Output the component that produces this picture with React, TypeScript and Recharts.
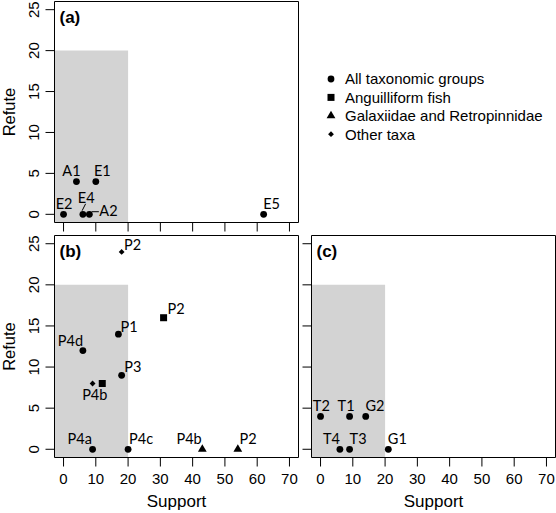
import React from 'react';
import { ScatterChart, Scatter, XAxis, YAxis, ReferenceArea, Label } from 'recharts';

// ---------- axes ----------
const X_TICKS = [0, 10, 20, 30, 40, 50, 60, 70];
const Y_TICKS = [0, 5, 10, 15, 20, 25];
const X_DOMAIN: [number, number] = [-2.8, 72.8];
const Y_DOMAIN: [number, number] = [-1, 26];
const SHADE_SUPPORT_MAX = 20;
const SHADE_REFUTE_MAX = 20;

// ---------- panel (a) ----------
const aAllNames = ['A1', 'E1', 'E2', 'E4', 'A2', 'E5'];
const aAllSupport = [4, 10, 0, 6, 8, 62];
const aAllRefute = [4, 4, 0, 0, 0, 0];

// ---------- panel (b) ----------
const bAllNames = ['P1', 'P4d', 'P3', 'P4a', 'P4c'];
const bAllSupport = [17, 6, 18, 9, 20];
const bAllRefute = [14, 12, 9, 0, 0];
const bAngNames = ['P2', 'P4b'];
const bAngSupport = [31, 12];
const bAngRefute = [16, 8];
const bGalNames = ['P4b', 'P2'];
const bGalSupport = [43, 54];
const bGalRefute = [0, 0];
const bOthNames = ['P2', 'P4b'];
const bOthSupport = [18, 9];
const bOthRefute = [24, 8];

// ---------- panel (c) ----------
const cAllNames = ['T2', 'T1', 'G2', 'T4', 'T3', 'G1'];
const cAllSupport = [0, 9, 14, 6, 9, 21];
const cAllRefute = [4, 4, 4, 0, 0, 0];

// ---------- legend ----------
const legendNames = ['All taxonomic groups', 'Anguilliform fish', 'Galaxiidae and Retropinnidae', 'Other taxa'];
const legendKinds = ['circle', 'square', 'triangle', 'diamond'];

// ---------- label placement (styling, relative to marker) ----------
type LabelPos = { dx: number; dy: number; anchor?: 'start' | 'middle' | 'end'; leader?: [number, number, number, number]; hide?: boolean };
const labelPos: Record<string, LabelPos> = {
  'a:all:A1': { dx: -5, dy: -10.5 },
  'a:all:E1': { dx: 6.6, dy: -10.5 },
  'a:all:E2': { dx: 0.5, dy: -10 },
  'a:all:E4': { dx: 3.3, dy: -16.7, leader: [2.7, -10.5, -0.8, -3.6] },
  'a:all:A2': { dx: 10, dy: -3.3, anchor: 'start', leader: [2.4, -2.6, 9.5, -2.6] },
  'a:all:E5': { dx: 8, dy: -10 },
  'b:oth:P2': { dx: 11, dy: -7 },
  'b:ang:P2': { dx: 12.4, dy: -8.7 },
  'b:all:P1': { dx: 10.7, dy: -7.3 },
  'b:all:P4d': { dx: -12.5, dy: -9.7 },
  'b:all:P3': { dx: 11.3, dy: -8.6 },
  'b:oth:P4b': { dx: 2.2, dy: 11 },
  'b:ang:P4b': { dx: 0, dy: 0, hide: true },
  'b:all:P4a': { dx: -12.8, dy: -10 },
  'b:all:P4c': { dx: 13, dy: -10 },
  'b:gal:P4b': { dx: -13.2, dy: -10 },
  'b:gal:P2': { dx: 10.2, dy: -10 },
  'c:all:T2': { dx: 0.8, dy: -10 },
  'c:all:T1': { dx: -3.5, dy: -10 },
  'c:all:G2': { dx: 9.3, dy: -10 },
  'c:all:T4': { dx: -8.5, dy: -10 },
  'c:all:T3': { dx: 8.5, dy: -10 },
  'c:all:G1': { dx: 9, dy: -10 },
};

type Row = { name: string; support: number; refute: number; key: string };
function buildRows(panel: string, series: string, names: string[], support: number[], refute: number[]): Row[] {
  return names.map((n, i) => ({ name: n, support: support[i], refute: refute[i], key: `${panel}:${series}:${n}` }));
}

const AXIS_FONT = '"Liberation Sans", Arial, Helvetica, sans-serif';
const LABEL_FONT = 'Lato, "Open Sans", sans-serif';

function marker(kind: string, cx: number, cy: number) {
  switch (kind) {
    case 'square':
      return <rect x={cx - 3.5} y={cy - 3.5} width={7} height={7} fill="#000" />;
    case 'triangle':
      return <polygon points={`${cx},${cy - 5} ${cx + 4.4},${cy + 2.5} ${cx - 4.4},${cy + 2.5}`} fill="#000" />;
    case 'diamond':
      return <polygon points={`${cx},${cy - 2.9} ${cx + 2.9},${cy} ${cx},${cy + 2.9} ${cx - 2.9},${cy}`} fill="#000" />;
    default:
      return <circle cx={cx} cy={cy} r={3.4} fill="#000" />;
  }
}

const makeShape = (kind: string) => (props: any) => {
  const { cx, cy, payload } = props;
  if (cx == null || cy == null || !payload) return <g />;
  const pos = labelPos[payload.key];
  return (
    <g>
      {marker(kind, cx, cy)}
      {pos && pos.leader && (
        <line x1={cx + pos.leader[0]} y1={cy + pos.leader[1]} x2={cx + pos.leader[2]} y2={cy + pos.leader[3]} stroke="#000" strokeWidth={1} />
      )}
      {pos && !pos.hide && (
        <text x={cx + pos.dx} y={cy + pos.dy + 5} textAnchor={pos.anchor ?? 'middle'} fontFamily={LABEL_FONT} fontSize={14.5} fill="#000">
          {payload.name}
        </text>
      )}
    </g>
  );
};

const YTick = (props: any) => {
  const { x, y, payload } = props;
  return (
    <text transform={`translate(${x - 5},${y}) rotate(-90)`} textAnchor="middle" fontSize={15} fontFamily={AXIS_FONT} fill="#000">
      {payload.value}
    </text>
  );
};
const XTick = (props: any) => {
  const { x, y, payload } = props;
  return (
    <text x={x} y={y + 15} textAnchor="middle" fontSize={15} fontFamily={AXIS_FONT} fill="#000">
      {payload.value}
    </text>
  );
};
const NoTick = () => <g />;

const XTitle = (props: any) => {
  const vb = props.viewBox || {};
  return (
    <text x={vb.x + vb.width / 2} y={vb.y + 49.5} textAnchor="middle" fontSize={17} fontFamily={AXIS_FONT} fill="#000">
      Support
    </text>
  );
};
const YTitle = (props: any) => {
  const vb = props.viewBox || {};
  return (
    <text transform={`translate(15,${vb.y + vb.height / 2}) rotate(-90)`} textAnchor="middle" fontSize={16.5} fontFamily={AXIS_FONT} fill="#000">
      Refute
    </text>
  );
};
const makeTag = (tag: string) => (props: any) => {
  const vb = props.viewBox || {};
  return (
    <text x={vb.x + 5} y={vb.y + 21} fontSize={17} fontWeight="bold" fontFamily={AXIS_FONT} fill="#000">
      {tag}
    </text>
  );
};

type SeriesDef = { kind: string; rows: Row[]; id: string };

function Panel(p: {
  tag: string;
  series: SeriesDef[];
  margin: { top: number; right: number; bottom: number; left: number };
  yWidth: number;
  xHeight: number;
  xLabels: boolean;
  yLabels: boolean;
  xTitle: boolean;
  yTitle: boolean;
}) {
  return (
    <div style={{ position: 'absolute', left: 0, top: 0 }}>
      <ScatterChart width={556} height={513} margin={p.margin}>
        <XAxis
          type="number"
          dataKey="support"
          domain={X_DOMAIN}
          ticks={X_TICKS}
          interval={0}
          axisLine={false}
          tickLine={{ stroke: '#000' }}
          tickSize={9}
          tick={p.xLabels ? XTick : NoTick}
          height={p.xHeight}
          label={p.xTitle ? <Label content={XTitle} /> : undefined}
        />
        <YAxis
          type="number"
          dataKey="refute"
          domain={Y_DOMAIN}
          ticks={Y_TICKS}
          interval={0}
          axisLine={false}
          tickLine={{ stroke: '#000' }}
          tickSize={9}
          tick={p.yLabels ? YTick : NoTick}
          width={p.yWidth}
          label={p.yTitle ? <Label content={YTitle} /> : undefined}
        />
        <ReferenceArea
          x1={X_DOMAIN[0]}
          x2={SHADE_SUPPORT_MAX}
          y1={Y_DOMAIN[0]}
          y2={SHADE_REFUTE_MAX}
          fill="#d3d3d3"
          fillOpacity={1}
          stroke="none"
          ifOverflow="visible"
        />
        {p.series.map((s) => (
          <Scatter key={s.id} data={s.rows} shape={makeShape(s.kind)} isAnimationActive={false} />
        ))}
        <ReferenceArea
          x1={X_DOMAIN[0]}
          x2={X_DOMAIN[1]}
          y1={Y_DOMAIN[0]}
          y2={Y_DOMAIN[1]}
          fill="none"
          stroke="#000"
          strokeWidth={1}
          ifOverflow="visible"
          label={<Label content={makeTag(p.tag)} />}
        />
      </ScatterChart>
    </div>
  );
}

function LegendBox() {
  return (
    <div style={{ position: 'absolute', left: 320, top: 65 }}>
      <svg width={236} height={80}>
        {legendNames.map((n, i) => {
          const cy = 14 + i * 18.4;
          return (
            <g key={n}>
              {marker(legendKinds[i], 11, cy)}
              <text x={25} y={cy + 5.4} fontSize={15} fontFamily={AXIS_FONT} fill="#000">
                {n}
              </text>
            </g>
          );
        })}
      </svg>
    </div>
  );
}

export default function App() {
  const aSeries: SeriesDef[] = [{ id: 'all', kind: 'circle', rows: buildRows('a', 'all', aAllNames, aAllSupport, aAllRefute) }];
  const bSeries: SeriesDef[] = [
    { id: 'all', kind: 'circle', rows: buildRows('b', 'all', bAllNames, bAllSupport, bAllRefute) },
    { id: 'ang', kind: 'square', rows: buildRows('b', 'ang', bAngNames, bAngSupport, bAngRefute) },
    { id: 'gal', kind: 'triangle', rows: buildRows('b', 'gal', bGalNames, bGalSupport, bGalRefute) },
    { id: 'oth', kind: 'diamond', rows: buildRows('b', 'oth', bOthNames, bOthSupport, bOthRefute) },
  ];
  const cSeries: SeriesDef[] = [{ id: 'all', kind: 'circle', rows: buildRows('c', 'all', cAllNames, cAllSupport, cAllRefute) }];

  return (
    <div style={{ position: 'absolute', left: 0, top: 0, width: 556, height: 513, background: '#fff', overflow: 'hidden' }}>
      <Panel
        tag="(a)"
        series={aSeries}
        margin={{ top: 1.5, right: 257.5, bottom: 260.5, left: 0 }}
        yWidth={54.5}
        xHeight={30}
        xLabels={false}
        yLabels={true}
        xTitle={false}
        yTitle={true}
      />
      <Panel
        tag="(b)"
        series={bSeries}
        margin={{ top: 235.5, right: 257.5, bottom: 0, left: 0 }}
        yWidth={54.5}
        xHeight={55.5}
        xLabels={true}
        yLabels={true}
        xTitle={true}
        yTitle={true}
      />
      <Panel
        tag="(c)"
        series={cSeries}
        margin={{ top: 235.5, right: 0.5, bottom: 0, left: 0 }}
        yWidth={311.5}
        xHeight={55.5}
        xLabels={true}
        yLabels={false}
        xTitle={true}
        yTitle={false}
      />
      <LegendBox />
    </div>
  );
}
